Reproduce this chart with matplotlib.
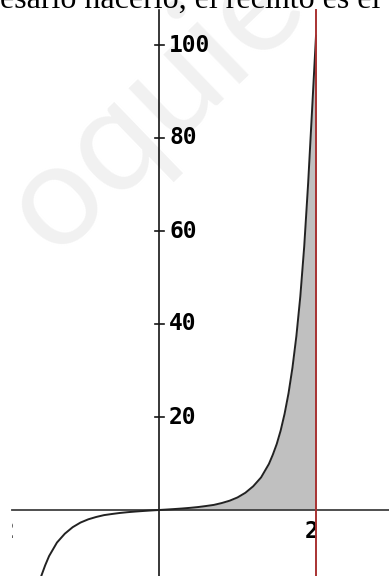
import matplotlib
matplotlib.use("Agg")
import matplotlib.pyplot as plt
from matplotlib.patches import Rectangle

# ---- data ----
curve_x = [-1.6, -1.5, -1.45, -1.4, -1.3, -1.2, -1.1, -1.0, -0.9, -0.8, -0.7, -0.6,
           -0.5, -0.4, -0.3, -0.2, -0.1, 0.0, 0.1, 0.2, 0.3, 0.4, 0.5, 0.6, 0.7,
           0.8, 0.9, 1.0, 1.1, 1.2, 1.3, 1.4, 1.45, 1.5, 1.55, 1.6, 1.65, 1.7,
           1.75, 1.8, 1.85, 1.9, 1.95, 2.0]
curve_y = [-20.7, -14.2, -11.9, -9.9, -7.0, -5.1, -3.7, -2.7, -2.0, -1.5, -1.1, -0.86,
           -0.64, -0.47, -0.33, -0.21, -0.10, 0.0, 0.10, 0.21, 0.33, 0.47, 0.64, 0.86, 1.1,
           1.5, 2.0, 2.7, 3.7, 5.1, 7.0, 9.9, 11.9, 14.2, 17.1, 20.7, 25.1, 30.6,
           37.4, 45.9, 56.7, 70.3, 86.0, 102.0]
area_from = 0.0
area_to = 2.0
ytick_vals = [20, 40, 60, 80, 100]
ytick_labels = ["20", "40", "60", "80", "100"]
xtick_labels = {-2: "-2", 2: "2"}
heading = "esario hacerlo, el recinto es el"
watermark = "oquie"

W, H = 389, 576
fig = plt.figure(figsize=(W / 100, H / 100), dpi=100)
ax = fig.add_axes([0, 0, 1, 1])
# pixel mapping: x_px = 159 + 78.5*x ; y_px(from top) = 510 - 4.65*y
xpu, ypu = 78.5, 4.65
x0px, y0px = 159, 510
ax.set_xlim(-x0px / xpu, (W - x0px) / xpu)
ax.set_ylim(-(H - y0px) / ypu, y0px / ypu)
ax.axis("off")

def px_x(p):
    return (p - x0px) / xpu

def px_y(p):
    return (y0px - p) / ypu

# watermark (behind everything)
ax.text(-20 / W, 1 - 250 / H, watermark, fontsize=105, color="#f1f1f1",
        rotation=44, family="Lato", fontweight="normal", ha="left", va="baseline",
        transform=fig.transFigure, zorder=0, clip_on=False)

# heading (partially cut)
ax.text(0 / W, 1 - 8 / H, heading, fontsize=23, family="Liberation Serif",
        color="black", ha="left", va="baseline", transform=fig.transFigure,
        zorder=6, clip_on=False)

# shaded area
xs = [x for x in curve_x if area_from <= x <= area_to]
ys = [y for x, y in zip(curve_x, curve_y) if area_from <= x <= area_to]
ax.fill_between(xs, 0, ys, color="#c0c0c0", lw=0, zorder=1)

# axes lines
ax.plot([px_x(12), px_x(W)], [0, 0], color="#404040", lw=1.3, zorder=2)
ax.plot([0, 0], [px_y(10), px_y(H)], color="#151515", lw=1.2, zorder=2)

# y ticks
for v, lab in zip(ytick_vals, ytick_labels):
    ax.plot([px_x(155), px_x(164)], [v, v], color="#151515", lw=1.2, zorder=2)
    ax.text(px_x(169), v, lab, fontsize=16.5, family="DejaVu Sans Mono",
            fontweight="bold", ha="left", va="center", color="black", zorder=4)

# x tick labels
clip = Rectangle((12 / W, 0), 1, 1, transform=fig.transFigure, visible=False)
fig.add_artist(clip)
for v, lab in xtick_labels.items():
    if v > 0:
        ax.text(px_x(312), px_y(532), lab, fontsize=16.5, family="DejaVu Sans Mono",
                fontweight="bold", ha="center", va="center", color="black", zorder=4)
    else:
        t = ax.text(px_x(15), px_y(532), lab, fontsize=16.5, family="DejaVu Sans Mono",
                    fontweight="bold", ha="right", va="center", color="black", zorder=4,
                    clip_on=True)
        t.set_clip_path(clip)

# curve
ax.plot(curve_x, curve_y, color="#222222", lw=1.4, zorder=3, clip_on=True)

# red vertical line at x = 2
ax.plot([2, 2], [px_y(10), px_y(H)], color="#a83232", lw=1.4, zorder=5)

fig.savefig("out.png", dpi=100)
